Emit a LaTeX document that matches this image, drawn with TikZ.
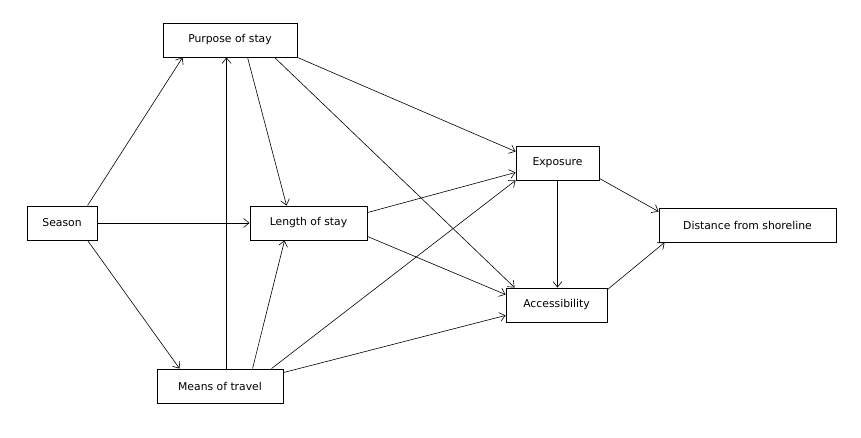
\documentclass[tikz,border=0pt]{standalone}
\usepackage{fontspec}
\setmainfont{DejaVu Sans}
\usepackage{tikz}
\usetikzlibrary{arrows.meta}

\begin{document}
\begin{tikzpicture}[x=1pt,y=-1pt,>={Straight Barb[length=5.5pt,width=9pt]},
			box/.style={draw,line width=0.9pt,minimum height=34pt,inner sep=0pt,font=\fontsize{10.8}{13}\selectfont},
			link/.style={->,line width=0.6pt},
			]
			% frame
			\useasboundingbox (0,0) rectangle (861,438);
			
			% boxes
			\node[box,minimum width=134pt] (purpose) at (230,40) {Purpose of stay};
			\node[box,minimum width=70pt] (season) at (62,223) {Season};
			\node[box,minimum width=117pt] (length) at (308.5,223) {Length of stay};
			\node[box,minimum width=83pt] (exposure) at (557.5,163) {Exposure};
			\node[box,minimum width=101pt] (access) at (556.5,305) {Accessibility};
			\node[box,minimum width=177pt] (shore) at (747.5,225) {Distance from shoreline};
			\node[box,minimum width=126pt] (means) at (220,386) {Means of travel};
			
			% from season
			\draw[link] ([xshift=61pt]season.north west) -- ([xshift=20pt]purpose.south west);
			\draw[link] (season.east) -- (length.west);
			\draw[link] ([xshift=61pt]season.south west) -- ([xshift=23pt]means.north west);
			
			% from purpose of stay
			\draw[link] ([xshift=85pt]purpose.south west) -- ([xshift=37pt]length.north west);
			\draw[link] (purpose.south east) -- ([yshift=-6pt]exposure.north west);
			\draw[link] ([xshift=112pt]purpose.south west) -- ([xshift=9pt]access.north west);
			
			% from means of travel
			\draw[link] ([xshift=70pt]means.north west) -- ([xshift=64pt]purpose.south west);
			\draw[link] ([xshift=96pt]means.north west) -- ([xshift=35pt]length.south west);
			\draw[link] ([xshift=115pt]means.north west) -- (exposure.south west);
			\draw[link] ([yshift=-4pt]means.north east) -- ([yshift=7pt]access.south west);
			
			% from length of stay
			\draw[link] ([yshift=-7pt]length.north east) -- ([yshift=8pt]exposure.south west);
			\draw[link] ([yshift=4pt]length.south east) -- ([yshift=-7pt]access.north west);
			
			% to the shoreline
			\draw[link] (exposure.south) -- (exposure.south |- access.north);
			\draw[link] ([yshift=2pt]exposure.south east) -- ([yshift=-4pt]shore.north west);
			\draw[link] ([yshift=-2pt]access.north east) -- ([xshift=6pt]shore.south west);
		\end{tikzpicture}
\end{document}
